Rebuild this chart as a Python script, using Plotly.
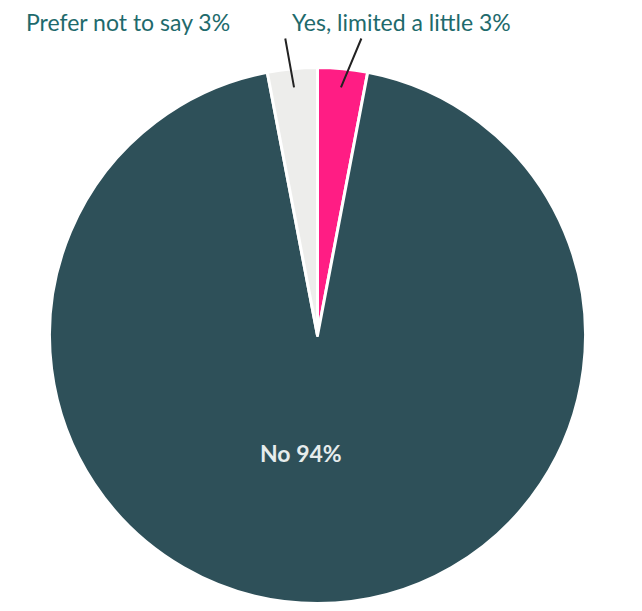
import math
import plotly.graph_objects as go

labels = ["Yes, limited a little", "No", "Prefer not to say"]
values = [3, 94, 3]
colors = ["#FF1D84", "#2E5059", "#EDEDEB"]

W, H = 642, 611
OFF = 8  # page body margin offset
CX, CY, R = 317.5 - OFF, 335.5 - OFF, 268


def px(x):
    return (x - OFF) / W


def py(y):
    return 1 - (y - OFF) / H


fig = go.Figure(go.Pie(
    labels=labels,
    values=values,
    sort=False,
    direction="clockwise",
    rotation=0,
    marker=dict(colors=colors, line=dict(color="white", width=3)),
    textinfo="none",
    showlegend=False,
    hoverinfo="label+percent",
    domain=dict(x=[(CX - R) / W, (CX + R) / W], y=[(H - CY - R) / H, (H - CY + R) / H]),
))

# label placement (screen pixel positions of text centres and leader-line tails)
text_pos = [(401, 22), (301, 453), (128, 22)]
tails = [(362, 37), None, (285, 37)]

total = sum(values)
cum = 0
for lab, val, tp, tail in zip(labels, values, text_pos, tails):
    mid = (cum + val / 2) / total * 2 * math.pi
    cum += val
    txt = f"{lab} {val}%"
    if tail is None:
        fig.add_annotation(x=px(tp[0]), y=py(tp[1]), xref="paper", yref="paper",
                           xanchor="center", yanchor="middle",
                           text=f"<b>{txt}</b>", showarrow=False,
                           font=dict(family="Lato", size=23, color="#E6ECEC"))
    else:
        sx = CX + OFF + 0.93 * R * math.sin(mid)
        sy = CY + OFF - 0.93 * R * math.cos(mid)
        fig.add_annotation(x=px(sx), y=py(sy), xref="paper", yref="paper",
                           text="", showarrow=True, arrowhead=0, arrowwidth=2,
                           arrowcolor="#222222", ax=tail[0] - sx, ay=tail[1] - sy,
                           standoff=0, startstandoff=0)
        fig.add_annotation(x=px(tp[0]), y=py(tp[1]), xref="paper", yref="paper",
                           xanchor="center", yanchor="middle",
                           text=txt, showarrow=False,
                           font=dict(family="Lato", size=23, color="#1E6A6C"))

fig.update_layout(
    width=W, height=H,
    margin=dict(l=0, r=0, t=0, b=0),
    paper_bgcolor="white",
    plot_bgcolor="white",
)
fig.write_html("out.html")
